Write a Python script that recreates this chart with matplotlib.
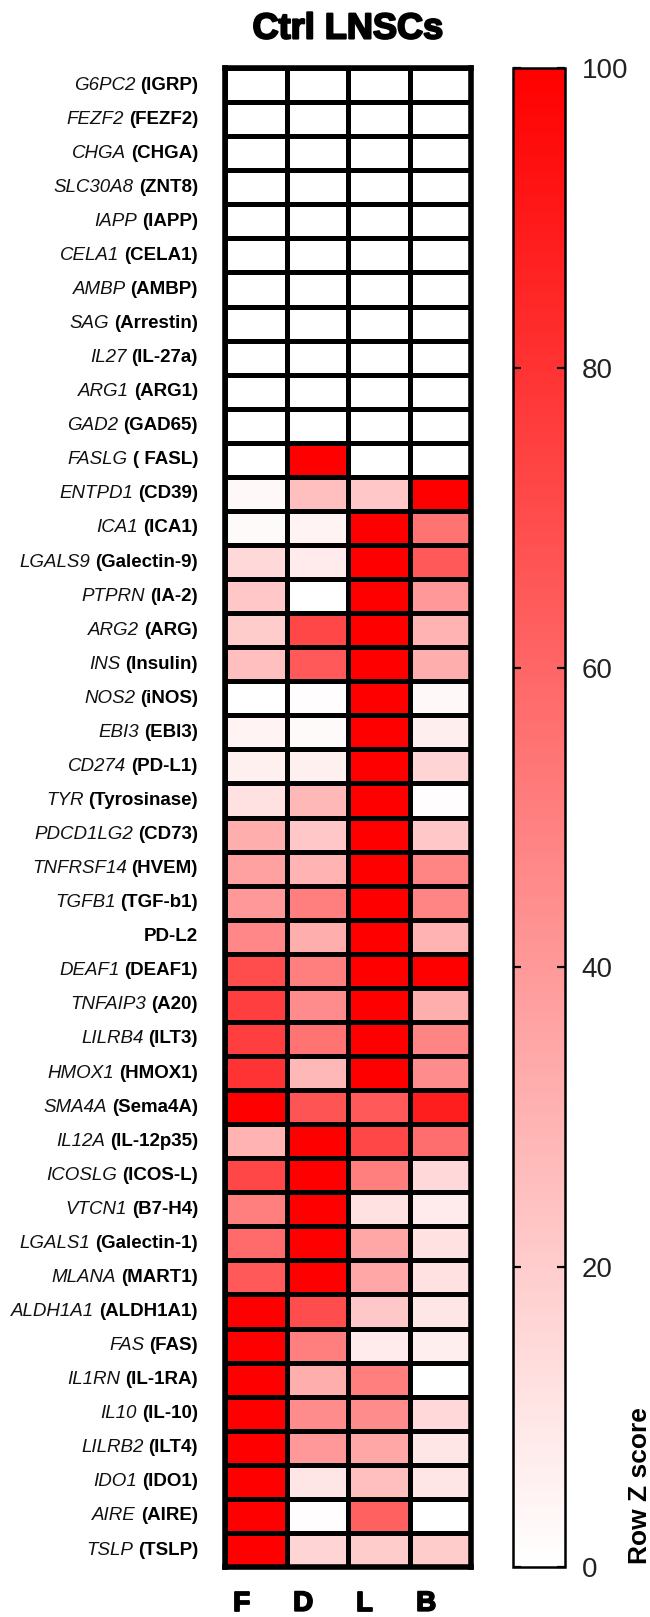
import matplotlib
matplotlib.use('Agg')
import matplotlib.pyplot as plt
import matplotlib.patheffects as pe
from matplotlib.colors import LinearSegmentedColormap
import numpy as np

plt.rcParams['font.family'] = ['Liberation Sans', 'DejaVu Sans']

# gene names (italic) and protein names (bold)
genes = ['G6PC2', 'FEZF2', 'CHGA', 'SLC30A8', 'IAPP', 'CELA1', 'AMBP', 'SAG', 'IL27',
         'ARG1', 'GAD2', 'FASLG', 'ENTPD1', 'ICA1', 'LGALS9', 'PTPRN', 'ARG2', 'INS',
         'NOS2', 'EBI3', 'CD274', 'TYR', 'PDCD1LG2', 'TNFRSF14', 'TGFB1', '', 'DEAF1',
         'TNFAIP3', 'LILRB4', 'HMOX1', 'SMA4A', 'IL12A', 'ICOSLG', 'VTCN1', 'LGALS1',
         'MLANA', 'ALDH1A1', 'FAS', 'IL1RN', 'IL10', 'LILRB2', 'IDO1', 'AIRE', 'TSLP']
proteins = ['(IGRP)', '(FEZF2)', '(CHGA)', '(ZNT8)', '(IAPP)', '(CELA1)', '(AMBP)',
            '(Arrestin)', '(IL-27a)', '(ARG1)', '(GAD65)', '( FASL)', '(CD39)', '(ICA1)',
            '(Galectin-9)', '(IA-2)', '(ARG)', '(Insulin)', '(iNOS)', '(EBI3)', '(PD-L1)',
            '(Tyrosinase)', '(CD73)', '(HVEM)', '(TGF-b1)', 'PD-L2', '(DEAF1)', '(A20)',
            '(ILT3)', '(HMOX1)', '(Sema4A)', '(IL-12p35)', '(ICOS-L)', '(B7-H4)',
            '(Galectin-1)', '(MART1)', '(ALDH1A1)', '(FAS)', '(IL-1RA)', '(IL-10)',
            '(ILT4)', '(IDO1)', '(AIRE)', '(TSLP)']
groups = ['F', 'D', 'L', 'B']

F = [0, 0, 0, 0, 0, 0, 0, 0, 0, 0, 0, 0, 3, 2, 15, 22, 20, 25, 0, 5, 6, 12, 32, 37,
     40, 47, 70, 75, 75, 80, 100, 30, 72, 50, 58, 65, 100, 100, 100, 100, 100, 100, 100, 100]
D = [0, 0, 0, 0, 0, 0, 0, 0, 0, 0, 0, 100, 25, 5, 8, 0, 72, 65, 1, 2, 6, 28, 22, 30,
     50, 32, 50, 45, 55, 28, 67, 100, 100, 100, 100, 100, 70, 50, 32, 45, 40, 10, 1, 17]
L = [0, 0, 0, 0, 0, 0, 0, 0, 0, 0, 0, 0, 22, 100, 100, 100, 100, 100, 100, 100, 100, 100, 100, 100,
     100, 100, 100, 100, 100, 100, 65, 72, 50, 12, 35, 35, 22, 8, 50, 45, 35, 25, 62, 20]
B = [0, 0, 0, 0, 0, 0, 0, 0, 0, 0, 0, 0, 100, 55, 65, 40, 30, 32, 3, 7, 17, 1, 22, 48,
     48, 30, 100, 32, 48, 45, 88, 57, 15, 8, 12, 12, 10, 7, 0, 15, 10, 10, 0, 20]

data = np.array([F, D, L, B]).T
n = len(genes)

fig = plt.figure(figsize=(6.5, 16.17), dpi=100)
ax = fig.add_axes([0.3462, 0.0309, 0.3785, 0.927])

cmap = LinearSegmentedColormap.from_list('white_red', ['#ffffff', '#ff0000'])
mesh = ax.pcolormesh(data, cmap=cmap, vmin=0, vmax=100, edgecolors='black', linewidth=2.2)
ax.set_xlim(0, 4)
ax.set_ylim(n, 0)
ax.set_xticks([])
ax.set_yticks([])
for s in ax.spines.values():
    s.set_linewidth(4)

# column labels
heavy = [pe.withStroke(linewidth=1.3, foreground='black')]
for i, g in enumerate(groups):
    ax.text(i + 0.27, -0.0245, g, transform=ax.get_xaxis_transform(), ha='center',
            va='center', fontsize=20, fontweight='bold', path_effects=heavy)

# row labels: italic gene + bold protein
fig.canvas.draw()
renderer = fig.canvas.get_renderer()
inv = ax.transAxes.inverted()
tr = ax.get_yaxis_transform()
x_right = -0.11
for i in range(n):
    y = i + 0.5
    t = ax.text(x_right, y, proteins[i], transform=tr, ha='right', va='center',
                fontsize=13.5, fontweight='bold')
    if genes[i]:
        bb = t.get_window_extent(renderer)
        x0 = inv.transform((bb.x0 - 5, 0))[0]
        ax.text(x0, y, genes[i], transform=tr, ha='right', va='center',
                fontsize=13.5, fontstyle='italic', color='#111111')

# colorbar
cax = fig.add_axes([0.789, 0.0309, 0.08, 0.927])
cb = fig.colorbar(mesh, cax=cax, ticks=[0, 20, 40, 60, 80, 100])
cb.outline.set_linewidth(1.8)
cax.tick_params(direction='in', length=6, width=1.6, left=True, right=True,
                labelsize=20, pad=12, colors='black')
for lab in cax.get_yticklabels():
    lab.set_color('#222222')

fig.text(0.985, 0.033, 'Row Z score', rotation=90, ha='center', va='bottom',
         fontsize=19, fontweight='bold')

fig.text(0.535, 1 - 29 / 1617, 'Ctrl LNSCs', ha='center', va='center',
         fontsize=26, fontweight='bold', path_effects=[pe.withStroke(linewidth=1.5, foreground='black')])

fig.savefig('out.png', dpi=100)
